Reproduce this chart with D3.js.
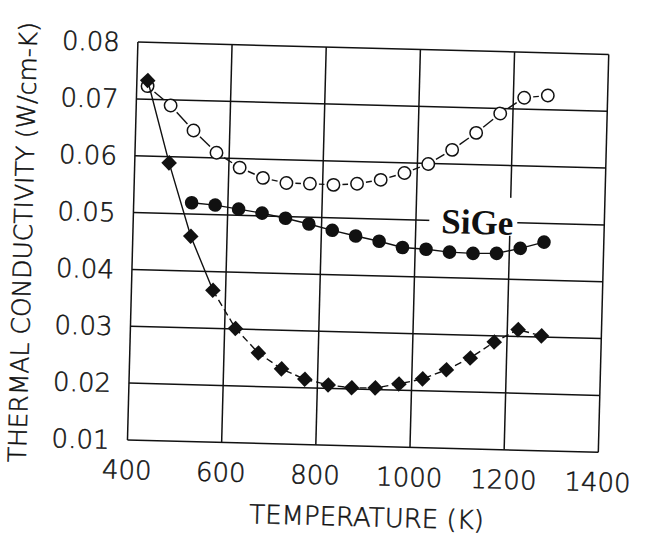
<!DOCTYPE html>
<html>
<head>
<meta charset="utf-8">
<script src="https://cdn.jsdelivr.net/npm/d3@7"></script>
<style>
  body { margin: 0; background: #fff; }
  svg { display: block; }
</style>
</head>
<body>
<div id="chart"></div>
<script>
// thermal conductivity vs temperature, three sample curves

const xTicks = [400, 600, 800, 1000, 1200, 1400];
const yTicks = [0.01, 0.02, 0.03, 0.04, 0.05, 0.06, 0.07, 0.08];

// open circles (top curve)
const openTemps = [423, 473, 523, 573, 623, 673, 723, 773, 823, 873, 923, 973, 1023, 1073, 1123, 1173, 1223, 1273];
const openVals = [0.0723, 0.0690, 0.0647, 0.0609, 0.0584, 0.0567, 0.0559, 0.0559, 0.0558, 0.0561, 0.0569, 0.0582, 0.0599, 0.0625, 0.0656, 0.0691, 0.0720, 0.0725];

// filled circles (SiGe)
const sigeTemps = [523, 573, 623, 673, 723, 773, 823, 873, 923, 973, 1023, 1073, 1123, 1173, 1223, 1273];
const sigeVals = [0.0520, 0.0517, 0.0511, 0.0505, 0.0497, 0.0488, 0.0478, 0.0469, 0.0461, 0.0451, 0.0449, 0.0445, 0.0444, 0.0445, 0.0455, 0.0467];

// diamonds (bottom curve)
const diaTemps = [423, 473, 523, 573, 623, 673, 723, 773, 823, 873, 923, 973, 1023, 1073, 1123, 1173, 1223, 1273];
const diaVals = [0.0733, 0.0589, 0.0461, 0.0367, 0.0301, 0.0259, 0.0232, 0.0215, 0.0206, 0.0202, 0.0203, 0.0211, 0.0221, 0.0238, 0.0260, 0.0289, 0.0312, 0.0302];

const W = 645, H = 539;
const plotL = 132, plotR = 603, plotT = 47, plotB = 445;

const svg = d3.select('#chart').append('svg')
  .attr('width', W)
  .attr('height', H);

// the scan is tilted a little, so the whole chart is turned
const g = svg.append('g')
  .attr('transform', 'rotate(1.5, 322.5, 269.5)');

const x = d3.scaleLinear().domain([400, 1400]).range([plotL, plotR]);
const y = d3.scaleLinear().domain([0.01, 0.08]).range([plotB, plotT]);

const ink = '#111';
const labelFont = '"DejaVu Sans", sans-serif';

// thin stroke font look: extra light face with a touch of outline
function labelStyle(sel, size) {
  sel.attr('font-family', labelFont)
    .attr('font-weight', 200)
    .attr('font-size', size)
    .attr('fill', ink)
    .attr('stroke', ink)
    .attr('stroke-width', 0.5);
}

// grid
g.selectAll('.vgrid')
  .data(xTicks)
  .enter().append('line')
  .attr('x1', d => x(d)).attr('x2', d => x(d))
  .attr('y1', plotT).attr('y2', plotB)
  .attr('stroke', ink).attr('stroke-width', 1.5);

g.selectAll('.hgrid')
  .data(yTicks)
  .enter().append('line')
  .attr('x1', plotL).attr('x2', plotR)
  .attr('y1', d => y(d)).attr('y2', d => y(d))
  .attr('stroke', ink).attr('stroke-width', 1.5);

// tick labels
g.selectAll('.ylab')
  .data(yTicks)
  .enter().append('text')
  .attr('x', plotL - 18)
  .attr('y', d => y(d))
  .attr('dy', '0.36em')
  .attr('text-anchor', 'end')
  .call(labelStyle, 26)
  .text(d => d3.format('.2f')(d));

g.selectAll('.xlab')
  .data(xTicks)
  .enter().append('text')
  .attr('x', d => x(d))
  .attr('y', plotB + 39)
  .attr('text-anchor', 'middle')
  .call(labelStyle, 26)
  .text(d => d);

// axis titles
g.append('text')
  .attr('x', 373)
  .attr('y', 525)
  .attr('text-anchor', 'middle')
  .call(labelStyle, 26)
  .text('TEMPERATURE (K)');

g.append('text')
  .attr('transform', 'translate(31, 250) rotate(-90)')
  .attr('text-anchor', 'middle')
  .call(labelStyle, 25)
  .text('THERMAL CONDUCTIVITY (W/cm-K)');

// SiGe label with white box over the grid
g.append('rect')
  .attr('x', 428).attr('y', 193)
  .attr('width', 88).attr('height', 38)
  .attr('fill', '#fff');

g.append('text')
  .attr('x', 476)
  .attr('y', 230)
  .attr('text-anchor', 'middle')
  .attr('font-family', '"Liberation Serif", serif')
  .attr('font-weight', 'bold')
  .attr('font-size', 35)
  .attr('fill', ink)
  .text('SiGe');

// helper: short segments between markers, leaving a small gap at each marker
function gapSegments(temps, vals, gap) {
  const segs = [];
  for (let i = 0; i < temps.length - 1; i++) {
    const x0 = x(temps[i]), y0 = y(vals[i]);
    const x1 = x(temps[i + 1]), y1 = y(vals[i + 1]);
    const len = Math.hypot(x1 - x0, y1 - y0);
    const t = Math.min(0.45, gap / len);
    segs.push([x0 + (x1 - x0) * t, y0 + (y1 - y0) * t, x1 - (x1 - x0) * t, y1 - (y1 - y0) * t]);
  }
  return segs;
}

const line = d3.line().x(d => x(d[0])).y(d => y(d[1]));

// open circle curve
g.selectAll('.openseg')
  .data(gapSegments(openTemps, openVals, 9))
  .enter().append('line')
  .attr('x1', d => d[0]).attr('y1', d => d[1])
  .attr('x2', d => d[2]).attr('y2', d => d[3])
  .attr('stroke', ink).attr('stroke-width', 1.4);

g.selectAll('.openpt')
  .data(d3.zip(openTemps, openVals))
  .enter().append('circle')
  .attr('cx', d => x(d[0])).attr('cy', d => y(d[1]))
  .attr('r', 6.2)
  .attr('fill', '#fff')
  .attr('stroke', ink).attr('stroke-width', 1.5);

// SiGe curve
g.append('path')
  .datum(d3.zip(sigeTemps, sigeVals))
  .attr('d', line)
  .attr('fill', 'none')
  .attr('stroke', ink).attr('stroke-width', 1.4);

g.selectAll('.sigept')
  .data(d3.zip(sigeTemps, sigeVals))
  .enter().append('circle')
  .attr('cx', d => x(d[0])).attr('cy', d => y(d[1]))
  .attr('r', 6.8)
  .attr('fill', ink);

// diamond curve: solid over the first points, dashed after
const dia = d3.zip(diaTemps, diaVals);
g.append('path')
  .datum(dia.slice(0, 4))
  .attr('d', line)
  .attr('fill', 'none')
  .attr('stroke', ink).attr('stroke-width', 1.4);

g.append('path')
  .datum(dia.slice(3))
  .attr('d', line)
  .attr('fill', 'none')
  .attr('stroke', ink).attr('stroke-width', 1.4)
  .attr('stroke-dasharray', '7,4');

const diamond = d3.symbol().type(d3.symbolDiamond2).size(155);
g.selectAll('.diapt')
  .data(dia)
  .enter().append('path')
  .attr('transform', d => `translate(${x(d[0])},${y(d[1])})`)
  .attr('d', diamond)
  .attr('fill', ink);
</script>
</body>
</html>
